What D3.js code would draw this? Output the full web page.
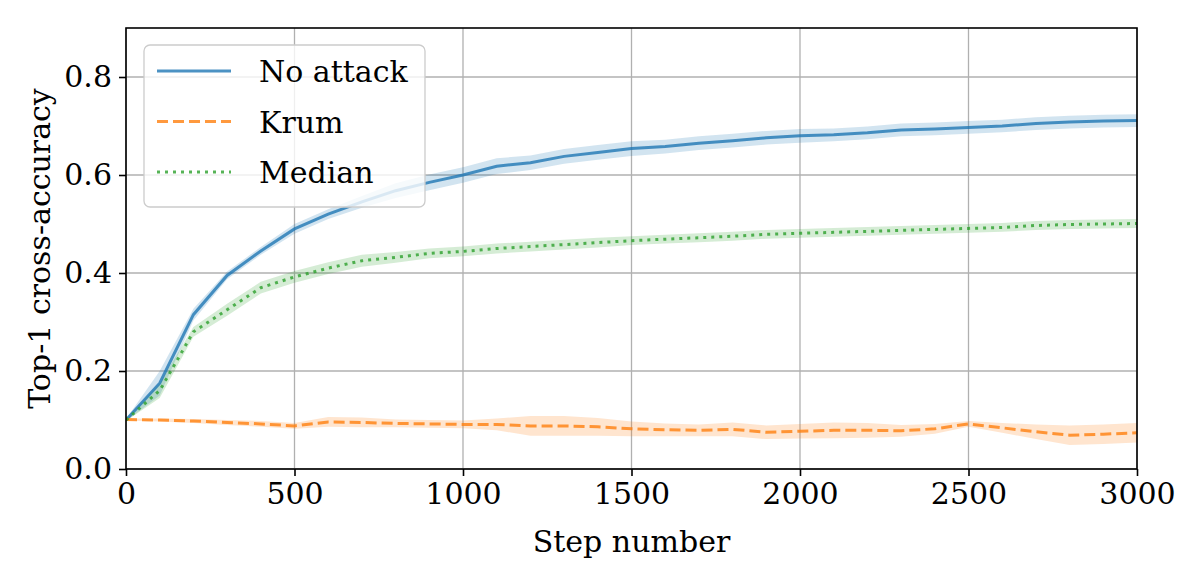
<!DOCTYPE html>
<html>
<head>
    <meta charset="UTF-8">
    <title>Cross-accuracy</title>
    <script src="https://d3js.org/d3.v7.min.js"></script>
    <style>
        body { margin: 0; background: white; }
        svg text { font-family: "DejaVu Serif", "Liberation Serif", serif; fill: black; }
    </style>
</head>
<body>
<div id="chart"></div>
<script>
    // steps on the x axis
    var steps = d3.range(0, 3001, 100);

    // mean values
    var noAttack = [0.100, 0.175, 0.315, 0.395, 0.445, 0.490, 0.520, 0.545, 0.568, 0.585,
                    0.600, 0.618, 0.625, 0.638, 0.646, 0.654, 0.658, 0.665, 0.670, 0.676,
                    0.680, 0.682, 0.686, 0.692, 0.694, 0.697, 0.700, 0.705, 0.708, 0.710, 0.711];
    var krum = [0.101, 0.100, 0.098, 0.095, 0.092, 0.088, 0.096, 0.095, 0.093, 0.092,
                0.091, 0.091, 0.088, 0.088, 0.086, 0.082, 0.080, 0.079, 0.081, 0.075,
                0.077, 0.079, 0.079, 0.078, 0.082, 0.092, 0.084, 0.076, 0.069, 0.071, 0.074];
    var median = [0.100, 0.160, 0.280, 0.325, 0.370, 0.392, 0.410, 0.425, 0.432, 0.440,
                  0.444, 0.450, 0.454, 0.458, 0.462, 0.466, 0.469, 0.472, 0.475, 0.479,
                  0.481, 0.483, 0.485, 0.487, 0.489, 0.491, 0.493, 0.497, 0.499, 0.500, 0.501];

    // spread (half width of the shaded band)
    var noAttackSpread = [0.002, 0.025, 0.012, 0.008, 0.008, 0.010, 0.010, 0.012, 0.015, 0.016,
                          0.016, 0.016, 0.015, 0.015, 0.015, 0.015, 0.014, 0.014, 0.014, 0.014,
                          0.014, 0.013, 0.013, 0.013, 0.013, 0.013, 0.013, 0.013, 0.013, 0.013, 0.013];
    var krumSpread = [0.002, 0.003, 0.004, 0.005, 0.006, 0.006, 0.010, 0.010, 0.008, 0.008,
                      0.008, 0.012, 0.020, 0.020, 0.018, 0.015, 0.013, 0.012, 0.014, 0.014,
                      0.015, 0.016, 0.015, 0.012, 0.010, 0.006, 0.010, 0.015, 0.020, 0.020, 0.020];
    var medianSpread = [0.002, 0.015, 0.010, 0.012, 0.012, 0.012, 0.012, 0.012, 0.011, 0.010,
                        0.010, 0.010, 0.010, 0.010, 0.010, 0.009, 0.009, 0.009, 0.009, 0.009,
                        0.009, 0.009, 0.009, 0.009, 0.009, 0.009, 0.009, 0.009, 0.009, 0.009, 0.009];

    var xTicks = [0, 500, 1000, 1500, 2000, 2500, 3000];
    var yTicks = [0.0, 0.2, 0.4, 0.6, 0.8];

    var seriesNames = ["No attack", "Krum", "Median"];

    // series table built from the arrays above
    var series = [
        {name: seriesNames[0], values: noAttack, spread: noAttackSpread, colour: "#1f77b4", dash: null},
        {name: seriesNames[1], values: krum, spread: krumSpread, colour: "#ff7f0e", dash: "11,5"},
        {name: seriesNames[2], values: median, spread: medianSpread, colour: "#2ca02c", dash: "3,5"}
    ];

    var width = 1196, height = 583;
    var margin = {left: 126, right: 59, top: 28, bottom: 114};
    var fontSize = "30px";

    var xScale = d3.scaleLinear().domain([0, 3000]).range([margin.left, width - margin.right]);
    var yScale = d3.scaleLinear().domain([0, 0.9]).range([height - margin.bottom, margin.top]);

    var svg = d3.select("#chart").append("svg")
        .attr("width", width)
        .attr("height", height);

    svg.append("clipPath").attr("id", "plotClip")
        .append("rect")
        .attr("x", margin.left).attr("y", margin.top)
        .attr("width", width - margin.left - margin.right)
        .attr("height", height - margin.top - margin.bottom);

    // grid lines
    svg.append("g").selectAll("line").data(xTicks).enter().append("line")
        .attr("x1", function(d){ return xScale(d); })
        .attr("x2", function(d){ return xScale(d); })
        .attr("y1", yScale(0)).attr("y2", yScale(0.9))
        .attr("stroke", "#b0b0b0").attr("stroke-width", 1.3);
    svg.append("g").selectAll("line").data(yTicks).enter().append("line")
        .attr("x1", xScale(0)).attr("x2", xScale(3000))
        .attr("y1", function(d){ return yScale(d); })
        .attr("y2", function(d){ return yScale(d); })
        .attr("stroke", "#b0b0b0").attr("stroke-width", 1.3);

    var plot = svg.append("g").attr("clip-path", "url(#plotClip)");

    // shaded bands
    series.forEach(function(s){
        var area = d3.area()
            .x(function(d, i){ return xScale(steps[i]); })
            .y0(function(d, i){ return yScale(d - s.spread[i]); })
            .y1(function(d, i){ return yScale(d + s.spread[i]); });
        plot.append("path")
            .datum(s.values)
            .attr("d", area)
            .attr("fill", s.colour)
            .attr("fill-opacity", 0.2);
    });

    // mean lines
    series.forEach(function(s){
        var line = d3.line()
            .x(function(d, i){ return xScale(steps[i]); })
            .y(function(d){ return yScale(d); });
        plot.append("path")
            .datum(s.values)
            .attr("d", line)
            .attr("fill", "none")
            .attr("stroke", s.colour)
            .attr("stroke-opacity", 0.8)
            .attr("stroke-width", 3)
            .attr("stroke-dasharray", s.dash);
    });

    // axes
    var xAxis = d3.axisBottom(xScale).tickValues(xTicks).tickSize(7).tickPadding(7)
        .tickFormat(d3.format("d"));
    var yAxis = d3.axisLeft(yScale).tickValues(yTicks).tickSize(7).tickPadding(7)
        .tickFormat(d3.format(".1f"));

    var gx = svg.append("g")
        .attr("transform", "translate(0," + yScale(0) + ")")
        .call(xAxis);
    var gy = svg.append("g")
        .attr("transform", "translate(" + xScale(0) + ",0)")
        .call(yAxis);
    [gx, gy].forEach(function(g){
        g.attr("font-family", null);
        g.select(".domain").remove();
        g.selectAll(".tick line").attr("stroke", "black").attr("stroke-width", 1.6);
        g.selectAll(".tick text")
            .attr("font-size", fontSize)
            .attr("fill", "black");
    });

    // frame
    svg.append("rect")
        .attr("x", xScale(0)).attr("y", yScale(0.9))
        .attr("width", xScale(3000) - xScale(0))
        .attr("height", yScale(0) - yScale(0.9))
        .attr("fill", "none")
        .attr("stroke", "black")
        .attr("stroke-width", 1.6);

    // axis labels
    svg.append("text")
        .attr("x", (xScale(0) + xScale(3000)) / 2)
        .attr("y", 552)
        .attr("text-anchor", "middle")
        .attr("font-size", fontSize)
        .text("Step number");
    svg.append("text")
        .attr("transform", "translate(50," + (yScale(0) + yScale(0.9)) / 2 + ") rotate(-90)")
        .attr("text-anchor", "middle")
        .attr("font-size", fontSize)
        .text("Top-1 cross-accuracy");

    // legend
    var legend = svg.append("g");
    legend.append("rect")
        .attr("x", 144).attr("y", 45)
        .attr("width", 281).attr("height", 162)
        .attr("rx", 6)
        .attr("fill", "white").attr("fill-opacity", 0.8)
        .attr("stroke", "#cccccc").attr("stroke-width", 1.3);
    series.forEach(function(s, i){
        var yy = 71 + i * 50.5;
        legend.append("line")
            .attr("x1", 157).attr("x2", 231)
            .attr("y1", yy).attr("y2", yy)
            .attr("stroke", s.colour)
            .attr("stroke-opacity", 0.8)
            .attr("stroke-width", 3)
            .attr("stroke-dasharray", s.dash);
        legend.append("text")
            .attr("x", 259).attr("y", yy + 11)
            .attr("font-size", fontSize)
            .text(s.name);
    });
</script>
</body>
</html>
